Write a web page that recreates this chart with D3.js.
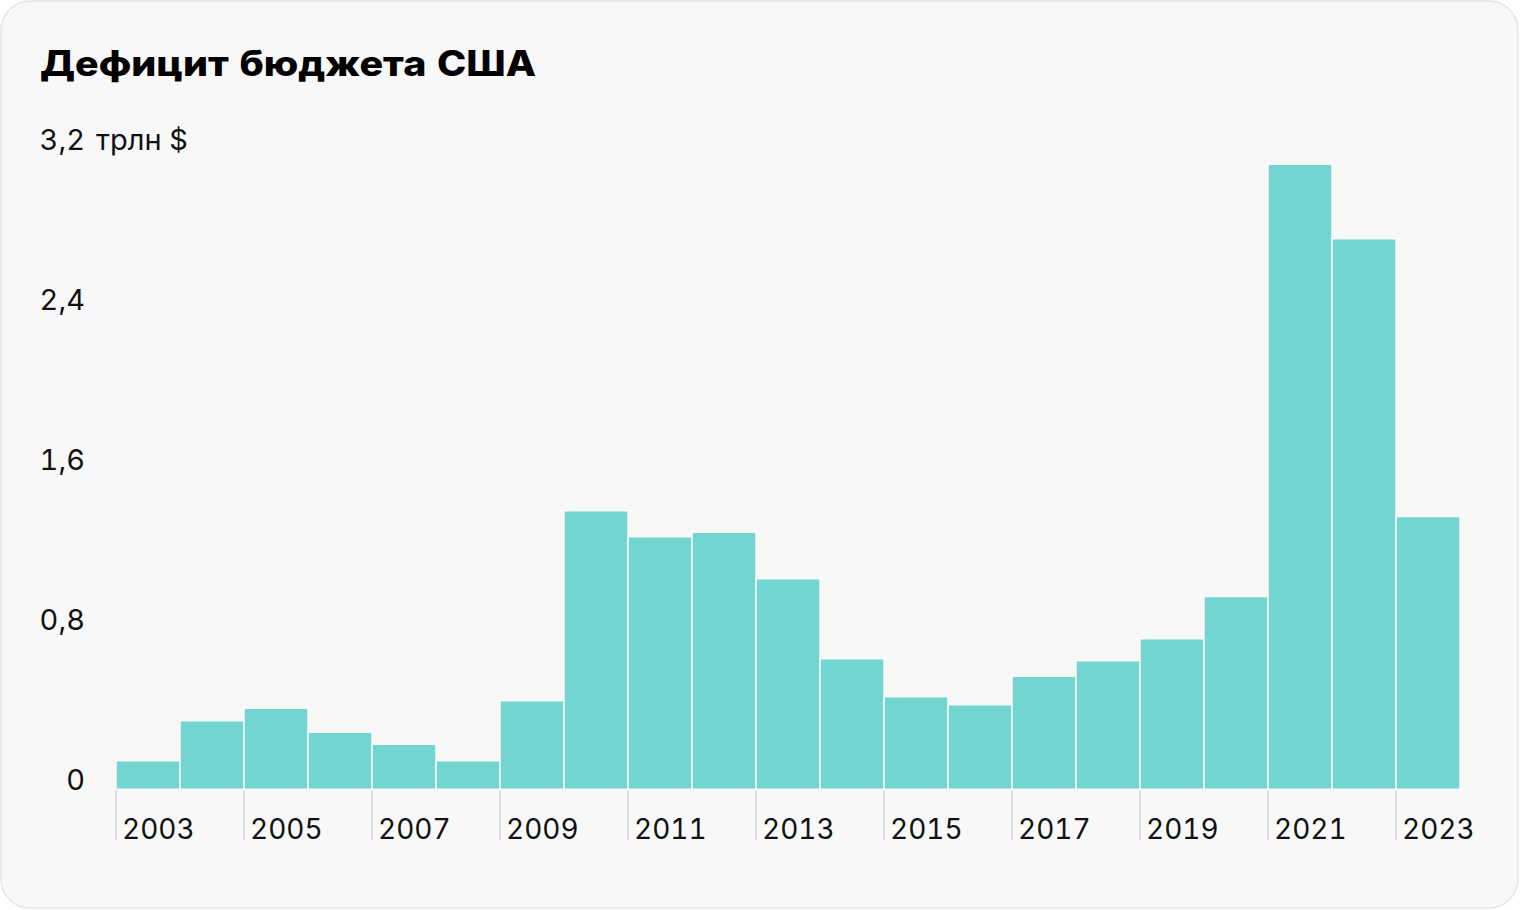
<!DOCTYPE html>
<html><head><meta charset="utf-8">
<script src="https://cdn.jsdelivr.net/npm/d3@7"></script>
<style>
html,body{margin:0;padding:0;background:#fff;}
svg{display:block;}
text{font-family:Inter,"Noto Sans",sans-serif;font-variant-numeric:tabular-nums;font-feature-settings:"tnum" 1;}
</style></head>
<body>
<svg id="chart" width="1520" height="910"></svg>
<script>
const years = [2003,2004,2005,2006,2007,2008,2009,2010,2011,2012,2013,2014,2015,2016,2017,2018,2019,2020,2021,2022,2023];
const deficit = [0.143,0.343,0.405,0.285,0.225,0.143,0.443,1.393,1.263,1.285,1.053,0.653,0.463,0.423,0.565,0.643,0.753,0.964,3.125,2.753,1.364];
const yTicks = [0,0.8,1.6,2.4,3.2];
const xTickYears = [2003,2005,2007,2009,2011,2013,2015,2017,2019,2021,2023];
const title = "Дефицит бюджета США";
const unit = "трлн $";

const svg = d3.select("#chart");
svg.append("rect").attr("x",1).attr("y",1).attr("width",1517).attr("height",907)
  .attr("rx",29).attr("fill","#f8f8f8").attr("stroke","#e5e5e5").attr("stroke-width",1.5);

const t = svg.append("text").attr("x",40).attr("y",75.5).attr("font-size",35).attr("font-weight",800)
  .attr("fill","#000").text(title);
const tw = t.node().getComputedTextLength();
if (Math.abs(tw - 496) > 6) t.attr("textLength",496).attr("lengthAdjust","spacingAndGlyphs");

const x = d3.scaleBand().domain(years).range([116,1460]).padding(0);
const y = d3.scaleLinear().domain([0,3.2]).range([789.3,149.3]);

const fmt = d => d===0 ? "0" : d.toFixed(1).replace(".",",");

// y axis labels
const yAxis = d3.axisLeft(y).tickValues(yTicks).tickSize(0).tickPadding(0).tickFormat(fmt);
const gy = svg.append("g").attr("transform","translate(85,0)").call(yAxis);
gy.select(".domain").remove();
gy.selectAll(".tick text").attr("font-size",29).attr("fill","#111").attr("dy",0)
  .attr("x",0).style("font-family","Inter");
gy.selectAll(".tick").filter(d=>d===3.2).append("text")
  .attr("x",11).attr("y",0).attr("text-anchor","start").attr("font-size",29)
  .attr("fill","#111").style("font-family","Inter").text(unit);

// x axis
const xAxis = d3.axisBottom(x).tickValues(xTickYears).tickSize(51).tickPadding(0);
const gx = svg.append("g").attr("transform","translate(0,789.3)").call(xAxis);
gx.select(".domain").remove();
gx.selectAll(".tick").attr("transform", d => `translate(${x(d)},0)`);
gx.selectAll(".tick line").attr("stroke","#dedede").attr("stroke-width",2);
gx.selectAll(".tick text").attr("font-size",28).attr("fill","#111")
  .attr("text-anchor","start").attr("x",6).attr("y",50).attr("dy",0).style("font-family","Inter");

// bars
svg.append("g").selectAll("rect").data(years).join("rect")
  .attr("x", d => x(d))
  .attr("width", x.bandwidth())
  .attr("y", (d,i) => y(deficit[i]))
  .attr("height", (d,i) => y(0) - y(deficit[i]))
  .attr("fill","#73d5cf")
  .attr("stroke","#fafafa").attr("stroke-width",1.5);
</script>
</body></html>
